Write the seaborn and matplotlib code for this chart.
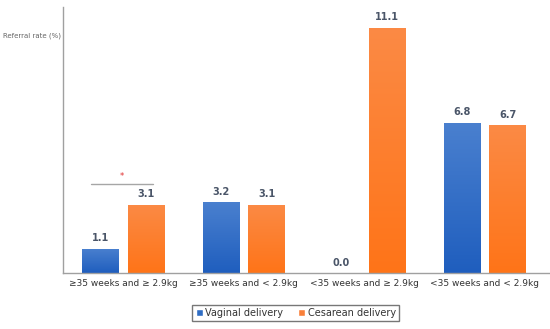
import matplotlib
matplotlib.use("Agg")
import matplotlib.pyplot as plt
import seaborn as sns
import pandas as pd
import numpy as np
from matplotlib.colors import LinearSegmentedColormap

categories = ["≥35 weeks and ≥ 2.9kg", "≥35 weeks and < 2.9kg",
              "<35 weeks and ≥ 2.9kg", "<35 weeks and < 2.9kg"]
vaginal = [1.1, 3.2, 0.0, 6.8]
cesarean = [3.1, 3.1, 11.1, 6.7]
series = ["Vaginal delivery", "Cesarean delivery"]
colors = ["#2F6DC4", "#F9803A"]
grad_top = ["#4A80CF", "#FB8A45"]
grad_bot = ["#1F5EBE", "#FF7418"]

df = pd.DataFrame({
    "cat": categories * 2,
    "val": vaginal + cesarean,
    "series": [series[0]] * 4 + [series[1]] * 4,
})

sns.set_style("white")
plt.rcParams["font.family"] = ["DejaVu Sans"]

fig = plt.figure(figsize=(5.5, 3.29), dpi=100)
ax = fig.add_axes([0.1145, 0.170, 0.8855, 0.809])

sns.barplot(data=df, x="cat", y="val", hue="series", palette=colors,
            width=0.76, ax=ax, legend=True, saturation=1)

ax.set_ylim(0, 12.05)
ax.set_xlim(-0.5, 3.54)

bw = 0.305
for ci, cont in enumerate(ax.containers):
    cmap = LinearSegmentedColormap.from_list("g", [grad_bot[ci], grad_top[ci]])
    for p in cont.patches:
        c = p.get_x() + p.get_width() / 2
        p.set_width(bw)
        p.set_x(c - bw / 2)
        p.set_linewidth(0)
        h = p.get_height()
        if h > 0:
            grad = np.linspace(0, 1, 256).reshape(-1, 1)
            im = ax.imshow(grad, cmap=cmap, origin="lower", aspect="auto",
                           extent=[c - bw / 2, c + bw / 2, 0, h], zorder=p.get_zorder() + 0.1)
            im.set_clip_path(p)

for cont in ax.containers:
    ax.bar_label(cont, fmt="%.1f", padding=4, fontsize=7, fontweight="bold",
                 color="#4A5568")

ax.set_ylim(0, 12.05)
ax.set_xlim(-0.5, 3.54)
ax.set_xlabel("")
ax.set_ylabel("")
ax.set_yticks([])
ax.tick_params(axis="x", length=0, labelsize=6.5, colors="#333333", pad=4)
for s in ["top", "right"]:
    ax.spines[s].set_visible(False)
for s in ["left", "bottom"]:
    ax.spines[s].set_color("#A0A0A0")
    ax.spines[s].set_linewidth(1)

fig.text(0.006, 0.890, "Referral rate (%)", fontsize=5, color="#666666",
         ha="left", va="center")

# significance bracket
ax.plot([-0.27, 0.25], [4.05, 4.05], color="#A6A6A6", lw=1)
ax.text(-0.01, 4.35, "*", color="#E03030", fontsize=6, ha="center", va="center")

leg = ax.legend(loc="center", bbox_to_anchor=(0.478, -0.150), ncol=2,
                frameon=True, fontsize=7, handlelength=0.7, handleheight=0.7,
                handletextpad=0.3, columnspacing=1.5, borderpad=0.35,
                fancybox=False)
leg.get_frame().set_edgecolor("#555555")
leg.get_frame().set_linewidth(1)
for t in leg.get_texts():
    t.set_color("#333333")

fig.savefig("out.png", dpi=100)
